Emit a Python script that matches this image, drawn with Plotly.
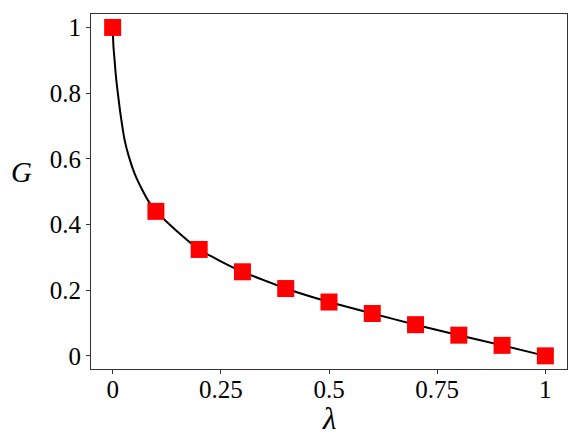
import plotly.graph_objects as go

# red square markers
lam_pts = [0, 0.1, 0.2, 0.3, 0.4, 0.5, 0.6, 0.7, 0.8, 0.9, 1.0]
g_pts = [1.0, 0.44, 0.324, 0.256, 0.205, 0.164, 0.129, 0.095, 0.063, 0.032, 0.0]

# black curve
lam_curve = [0, 0.002, 0.0045, 0.0076, 0.012, 0.0169, 0.0277, 0.0377, 0.0508, 0.0686,
             0.0838, 0.1, 0.15, 0.2, 0.25, 0.3, 0.4, 0.5, 0.6, 0.7, 0.8, 0.9, 1.0]
g_curve = [1.0, 0.94, 0.9, 0.85, 0.8, 0.748, 0.657, 0.606, 0.555, 0.505,
           0.469, 0.44, 0.378, 0.324, 0.288, 0.256, 0.205, 0.164, 0.129,
           0.095, 0.063, 0.032, 0.0]

x_ticks = [0, 0.25, 0.5, 0.75, 1]
x_ticktext = ["0", "0.25", "0.5", "0.75", "1"]
y_ticks = [0, 0.2, 0.4, 0.6, 0.8, 1]
y_ticktext = ["0", "0.2", "0.4", "0.6", "0.8", "1"]

font = "Liberation Serif, serif"

fig = go.Figure()
fig.add_trace(go.Scatter(x=lam_curve, y=g_curve, mode="lines",
                         line=dict(color="black", width=2, shape="spline", smoothing=0.4),
                         hoverinfo="skip"))
fig.add_trace(go.Scatter(x=lam_pts, y=g_pts, mode="markers",
                         marker=dict(symbol="square", size=17, color="#ff0000",
                                     line=dict(width=0))))

axis_common = dict(showgrid=False, zeroline=False, showline=True, linecolor="#333333",
                   linewidth=1, mirror=True, ticks="outside", ticklen=4, tickwidth=1,
                   tickcolor="#333333", automargin=False,
                   tickfont=dict(family=font, size=25, color="black"))

# the page body adds an 8px offset, so the figure is 8px smaller on each side
fig.update_layout(
    width=573, height=437,
    margin=dict(l=83, r=14, t=6, b=76, autoexpand=False),
    paper_bgcolor="white", plot_bgcolor="white",
    showlegend=False,
    xaxis=dict(range=[-0.05, 1.05], tickvals=x_ticks, ticktext=x_ticktext,
               ticklabelstandoff=-6, **axis_common),
    yaxis=dict(range=[-0.04, 1.041], tickvals=y_ticks, ticktext=y_ticktext,
               ticklabelstandoff=0, **axis_common),
    annotations=[
        dict(text="<i>G</i>", xref="paper", yref="paper", x=-0.145, y=0.555,
             xanchor="center", yanchor="middle", showarrow=False,
             font=dict(family=font, size=29, color="black")),
        dict(text="<i>λ</i>", xref="paper", yref="paper", x=0.5, y=-0.14,
             xanchor="center", yanchor="middle", showarrow=False,
             font=dict(family=font, size=31, color="black")),
    ],
)

fig.write_html("out.html")
